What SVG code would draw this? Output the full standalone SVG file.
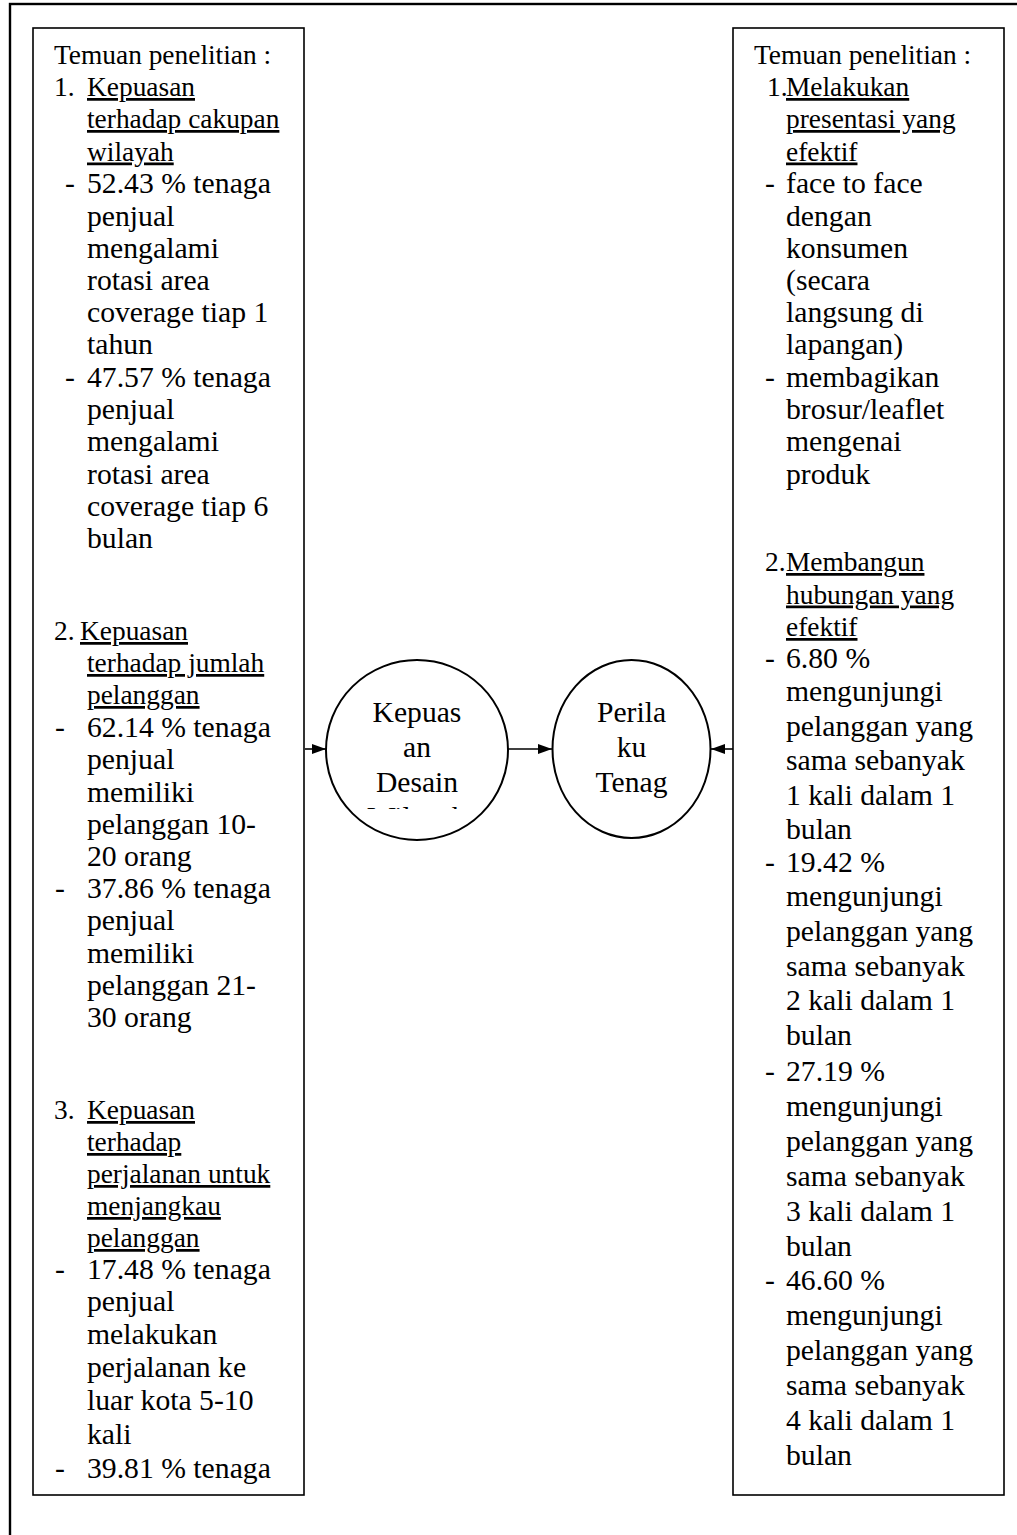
<svg xmlns="http://www.w3.org/2000/svg" width="1017" height="1535" viewBox="0 0 1017 1535">
  <style>
    text { font-family: "Liberation Serif", "Times New Roman", serif; fill: #000; }
    .h { font-size: 27.4px; }
    .b { font-size: 29.7px; }
    .c { font-size: 29.6px; text-anchor: middle; }
    .u { text-decoration: underline; }
    .box { fill: #fff; stroke: #000; stroke-width: 1.6; }
    .node { fill: #fff; stroke: #000; stroke-width: 2; }
    .edge { fill: none; stroke: #000; stroke-width: 1.6; }
  </style>
  <defs>
    <marker id="arrow" markerUnits="userSpaceOnUse" markerWidth="15" markerHeight="12" refX="14" refY="6" orient="auto">
      <path d="M0,1 L14,6 L0,11 Z" fill="#000"/>
    </marker>
    <clipPath id="clipK">
      <rect x="330" y="690" width="175" height="119"/>
    </clipPath>
  </defs>

  <rect width="1017" height="1535" fill="#fff"/>
  <!-- outer frame -->
  <rect x="10" y="4" width="1030" height="1560" fill="none" stroke="#000" stroke-width="2.4"/>

  <!-- left findings box -->
  <g id="findings-left">
    <rect class="box" x="33" y="28" width="271" height="1467"/>
    <text class="h" x="54" y="63.5">Temuan penelitian :</text>
    <text class="h" x="54" y="96">1.</text>
    <text class="h u" x="87" y="96">Kepuasan</text>
    <text class="h u" x="87" y="128">terhadap cakupan</text>
    <text class="h u" x="87" y="160.5">wilayah</text>
    <text class="b" x="65" y="193">-</text>
    <text class="b" x="87" y="193">52.43 % tenaga</text>
    <text class="b" x="87" y="225.5">penjual</text>
    <text class="b" x="87" y="257.5">mengalami</text>
    <text class="b" x="87" y="290">rotasi area</text>
    <text class="b" x="87" y="322">coverage tiap 1</text>
    <text class="b" x="87" y="354">tahun</text>
    <text class="b" x="65" y="387">-</text>
    <text class="b" x="87" y="387">47.57 % tenaga</text>
    <text class="b" x="87" y="419">penjual</text>
    <text class="b" x="87" y="451">mengalami</text>
    <text class="b" x="87" y="484">rotasi area</text>
    <text class="b" x="87" y="516">coverage tiap 6</text>
    <text class="b" x="87" y="548">bulan</text>

    <text class="h" x="54" y="640">2.</text>
    <text class="h u" x="80" y="640">Kepuasan</text>
    <text class="h u" x="87" y="672">terhadap jumlah</text>
    <text class="h u" x="87" y="704">pelanggan</text>
    <text class="b" x="55" y="737">-</text>
    <text class="b" x="87" y="737">62.14 % tenaga</text>
    <text class="b" x="87" y="769">penjual</text>
    <text class="b" x="87" y="802">memiliki</text>
    <text class="b" x="87" y="834">pelanggan 10-</text>
    <text class="b" x="87" y="866">20 orang</text>
    <text class="b" x="55" y="898">-</text>
    <text class="b" x="87" y="898">37.86 % tenaga</text>
    <text class="b" x="87" y="930">penjual</text>
    <text class="b" x="87" y="963">memiliki</text>
    <text class="b" x="87" y="995">pelanggan 21-</text>
    <text class="b" x="87" y="1027">30 orang</text>

    <text class="h" x="54" y="1119">3.</text>
    <text class="h u" x="87" y="1119">Kepuasan</text>
    <text class="h u" x="87" y="1151">terhadap</text>
    <text class="h u" x="87" y="1183">perjalanan untuk</text>
    <text class="h u" x="87" y="1215">menjangkau</text>
    <text class="h u" x="87" y="1247">pelanggan</text>
    <text class="b" x="55" y="1279">-</text>
    <text class="b" x="87" y="1279">17.48 % tenaga</text>
    <text class="b" x="87" y="1311">penjual</text>
    <text class="b" x="87" y="1344">melakukan</text>
    <text class="b" x="87" y="1377">perjalanan ke</text>
    <text class="b" x="87" y="1410">luar kota 5-10</text>
    <text class="b" x="87" y="1444">kali</text>
    <text class="b" x="55" y="1478">-</text>
    <text class="b" x="87" y="1478">39.81 % tenaga</text>
  </g>

  <!-- right findings box -->
  <g id="findings-right">
    <rect class="box" x="733" y="28" width="271" height="1467"/>
    <text class="h" x="754" y="63.5">Temuan penelitian :</text>
    <text class="h" x="767" y="96">1.</text>
    <text class="h u" x="786" y="96">Melakukan</text>
    <text class="h u" x="786" y="128">presentasi yang</text>
    <text class="h u" x="786" y="160.5">efektif</text>
    <text class="b" x="765" y="193">-</text>
    <text class="b" x="786" y="193">face to face</text>
    <text class="b" x="786" y="225.5">dengan</text>
    <text class="b" x="786" y="257.5">konsumen</text>
    <text class="b" x="786" y="290">(secara</text>
    <text class="b" x="786" y="322">langsung di</text>
    <text class="b" x="786" y="354">lapangan)</text>
    <text class="b" x="765" y="387">-</text>
    <text class="b" x="786" y="387">membagikan</text>
    <text class="b" x="786" y="419">brosur/leaflet</text>
    <text class="b" x="786" y="451">mengenai</text>
    <text class="b" x="786" y="484">produk</text>

    <text class="h" x="765" y="571">2.</text>
    <text class="h u" x="786" y="571">Membangun</text>
    <text class="h u" x="786" y="603.5">hubungan yang</text>
    <text class="h u" x="786" y="636">efektif</text>
    <text class="b" x="765" y="668">-</text>
    <text class="b" x="786" y="668">6.80 %</text>
    <text class="b" x="786" y="701">mengunjungi</text>
    <text class="b" x="786" y="736">pelanggan yang</text>
    <text class="b" x="786" y="770">sama sebanyak</text>
    <text class="b" x="786" y="805">1 kali dalam 1</text>
    <text class="b" x="786" y="839">bulan</text>
    <text class="b" x="765" y="872">-</text>
    <text class="b" x="786" y="872">19.42 %</text>
    <text class="b" x="786" y="906">mengunjungi</text>
    <text class="b" x="786" y="941">pelanggan yang</text>
    <text class="b" x="786" y="976">sama sebanyak</text>
    <text class="b" x="786" y="1010">2 kali dalam 1</text>
    <text class="b" x="786" y="1045">bulan</text>
    <text class="b" x="765" y="1081">-</text>
    <text class="b" x="786" y="1081">27.19 %</text>
    <text class="b" x="786" y="1116">mengunjungi</text>
    <text class="b" x="786" y="1151">pelanggan yang</text>
    <text class="b" x="786" y="1186">sama sebanyak</text>
    <text class="b" x="786" y="1221">3 kali dalam 1</text>
    <text class="b" x="786" y="1256">bulan</text>
    <text class="b" x="765" y="1290">-</text>
    <text class="b" x="786" y="1290">46.60 %</text>
    <text class="b" x="786" y="1325">mengunjungi</text>
    <text class="b" x="786" y="1360">pelanggan yang</text>
    <text class="b" x="786" y="1395">sama sebanyak</text>
    <text class="b" x="786" y="1430">4 kali dalam 1</text>
    <text class="b" x="786" y="1465">bulan</text>
  </g>

  <!-- circular constructs -->
  <g id="kepuasan-desain-wilayah">
    <ellipse class="node" cx="417" cy="750" rx="91" ry="90"/>
    <g clip-path="url(#clipK)">
      <text class="c" x="417" y="722">Kepuas</text>
      <text class="c" x="417" y="757">an</text>
      <text class="c" x="417" y="792">Desain</text>
      <text class="c" x="417" y="827">Wilayah</text>
    </g>
  </g>
  <g id="perilaku-tenaga-penjual">
    <ellipse class="node" cx="631.5" cy="749" rx="79" ry="89"/>
    <text class="c" x="631.5" y="722">Perila</text>
    <text class="c" x="631.5" y="757">ku</text>
    <text class="c" x="631.5" y="792">Tenag</text>
  </g>

  <!-- connectors -->
  <g id="connectors">
    <line class="edge" x1="305" y1="749" x2="326" y2="749" marker-end="url(#arrow)"/>
    <line class="edge" x1="508" y1="749" x2="552" y2="749" marker-end="url(#arrow)"/>
    <line class="edge" x1="733" y1="749" x2="711" y2="749" marker-end="url(#arrow)"/>
  </g>
</svg>
